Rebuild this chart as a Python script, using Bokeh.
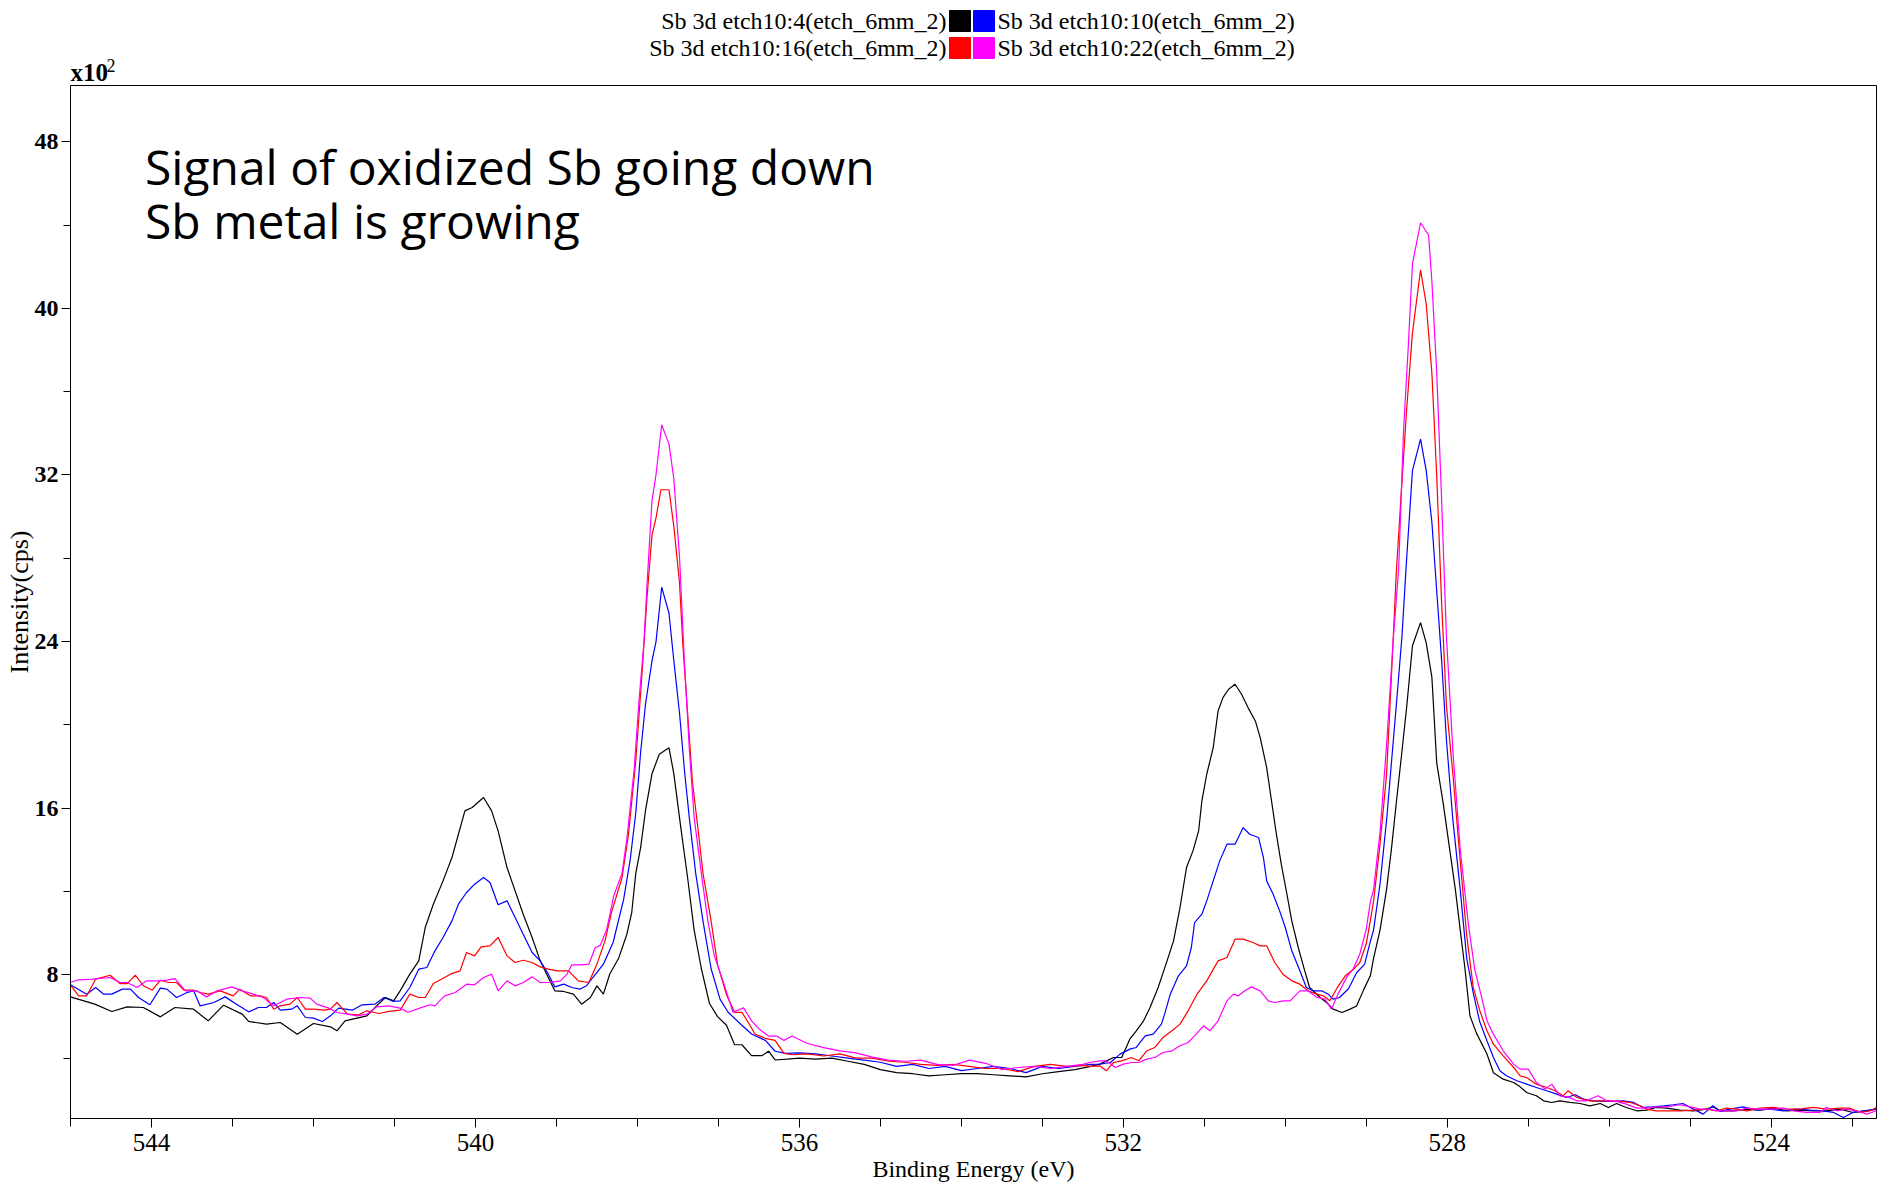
from bokeh.plotting import figure
from bokeh.models import Range1d, FixedTicker, Label
from bokeh.layouts import column
from bokeh.embed import file_html
from bokeh.resources import INLINE

# ---------------- data (intensity in units of 10^2 cps) ----------------
series_names = ["Sb 3d etch10:4(etch_6mm_2)", "Sb 3d etch10:10(etch_6mm_2)",
                "Sb 3d etch10:16(etch_6mm_2)", "Sb 3d etch10:22(etch_6mm_2)"]
series_colors = ["#000000", "#0000FF", "#FF0000", "#FF00FF"]

be_etch4 = [545.00, 544.70, 544.49, 544.30, 544.10, 543.89, 543.71, 543.48, 543.30, 543.11, 542.88, 542.80,
            542.58, 542.41, 542.20, 542.00, 541.79, 541.71, 541.61, 541.34, 541.22, 541.11, 541.01, 540.93,
            540.81, 540.70, 540.62, 540.52, 540.40, 540.29, 540.21, 540.13, 540.04, 539.90, 539.80, 539.72,
            539.61, 539.51, 539.41, 539.30, 539.20, 539.12, 539.02, 538.91, 538.79, 538.69, 538.58, 538.50,
            538.42, 538.34, 538.23, 538.13, 538.07, 538.02, 537.96, 537.90, 537.82, 537.73, 537.61, 537.55,
            537.46, 537.38, 537.30, 537.21, 537.11, 537.01, 536.90, 536.80, 536.71, 536.59, 536.46, 536.38,
            536.30, 536.15, 536.00, 535.80, 535.60, 535.40, 535.20, 535.00, 534.80, 534.60, 534.40, 534.20,
            534.00, 533.80, 533.60, 533.40, 533.20, 533.00, 532.80, 532.60, 532.40, 532.29, 532.12, 532.02,
            531.92, 531.84, 531.75, 531.67, 531.57, 531.46, 531.38, 531.30, 531.22, 531.14, 531.07, 531.03,
            530.97, 530.89, 530.83, 530.77, 530.70, 530.62, 530.54, 530.46, 530.37, 530.31, 530.23, 530.17,
            530.11, 530.05, 529.98, 529.92, 529.84, 529.76, 529.70, 529.57, 529.49, 529.41, 529.30, 529.20,
            529.12, 529.03, 528.95, 528.91, 528.83, 528.75, 528.69, 528.63, 528.56, 528.50, 528.43, 528.33,
            528.26, 528.19, 528.13, 528.05, 527.97, 527.90, 527.84, 527.78, 527.72, 527.64, 527.51, 527.43,
            527.31, 527.18, 527.10, 527.02, 526.90, 526.81, 526.71, 526.61, 526.49, 526.36, 526.24, 526.11,
            526.01, 525.91, 525.79, 525.66, 525.54, 525.42, 525.29, 525.13, 524.96, 524.80, 524.72, 524.63,
            524.47, 524.30, 524.14, 523.97, 523.81, 523.65, 523.48, 523.32, 523.15, 522.99, 522.82, 522.70]
int_etch4 = [6.94, 6.59, 6.24, 6.46, 6.43, 5.98, 6.43, 6.35, 5.79, 6.54, 6.11, 5.76,
             5.63, 5.71, 5.15, 5.66, 5.50, 5.31, 5.79, 6.03, 6.51, 6.91, 6.75, 7.23,
             8.03, 8.67, 10.27, 11.39, 12.51, 13.63, 14.75, 15.87, 16.03, 16.51, 15.87, 14.91,
             13.15, 12.03, 10.91, 9.79, 8.67, 8.03, 7.23, 7.20, 7.07, 6.59, 6.91, 7.47,
             7.07, 8.05, 8.81, 9.95, 10.99, 12.87, 14.12, 15.89, 17.65, 18.59, 18.90, 17.65,
             14.95, 12.66, 10.16, 8.29, 6.62, 5.99, 5.58, 4.64, 4.64, 4.12, 4.12, 4.33,
             3.91, 3.95, 4.00, 3.95, 4.00, 3.85, 3.70, 3.45, 3.30, 3.25, 3.15, 3.20,
             3.25, 3.25, 3.20, 3.15, 3.10, 3.25, 3.35, 3.45, 3.60, 3.71, 4.03, 4.03,
             4.91, 5.31, 5.79, 6.43, 7.39, 8.67, 9.63, 11.23, 13.15, 13.95, 14.91, 16.35,
             17.63, 18.91, 20.67, 21.31, 21.71, 21.95, 21.47, 20.83, 20.19, 19.39, 17.95, 16.35,
             14.75, 13.31, 11.87, 10.59, 9.31, 8.19, 7.39, 6.91, 6.67, 6.35, 6.19, 6.35,
             6.50, 7.30, 7.95, 8.79, 10.16, 12.09, 14.02, 16.23, 18.71, 20.91, 23.80, 24.91,
             23.94, 22.29, 18.16, 16.23, 14.02, 12.09, 10.16, 8.24, 6.03, 5.20, 4.20, 3.30,
             2.99, 2.83, 2.62, 2.35, 2.19, 1.95, 1.87, 1.95, 1.87, 1.82, 1.71, 1.82,
             1.63, 1.82, 1.63, 1.47, 1.50, 1.63, 1.60, 1.50, 1.47, 1.55, 1.66, 1.47,
             1.47, 1.55, 1.50, 1.60, 1.47, 1.50, 1.47, 1.47, 1.55, 1.39, 1.47, 1.55]

be_etch10 = [545.00, 544.80, 544.69, 544.59, 544.49, 544.36, 544.26, 544.16, 544.02, 543.89, 543.81, 543.69,
             543.56, 543.48, 543.40, 543.23, 543.09, 542.95, 542.80, 542.68, 542.58, 542.49, 542.41, 542.27,
             542.20, 542.10, 542.00, 541.89, 541.79, 541.69, 541.52, 541.40, 541.24, 541.13, 541.01, 540.93,
             540.81, 540.70, 540.60, 540.50, 540.40, 540.29, 540.21, 540.11, 540.01, 539.90, 539.82, 539.72,
             539.61, 539.51, 539.41, 539.30, 539.20, 539.10, 539.02, 538.91, 538.81, 538.71, 538.63, 538.55,
             538.42, 538.30, 538.17, 538.09, 538.02, 537.96, 537.90, 537.82, 537.77, 537.70, 537.61, 537.55,
             537.48, 537.42, 537.36, 537.28, 537.19, 537.09, 536.98, 536.88, 536.71, 536.59, 536.42, 536.30,
             536.17, 536.00, 535.80, 535.60, 535.40, 535.20, 535.00, 534.80, 534.60, 534.40, 534.20, 534.00,
             533.80, 533.60, 533.40, 533.20, 533.00, 532.80, 532.60, 532.40, 532.29, 532.16, 532.04, 531.92,
             531.84, 531.73, 531.63, 531.53, 531.49, 531.42, 531.32, 531.22, 531.16, 531.12, 531.03, 530.97,
             530.89, 530.81, 530.72, 530.62, 530.52, 530.44, 530.33, 530.27, 530.23, 530.15, 530.07, 530.00,
             529.92, 529.82, 529.74, 529.65, 529.55, 529.47, 529.41, 529.33, 529.22, 529.12, 529.02, 528.95,
             528.91, 528.83, 528.75, 528.69, 528.63, 528.56, 528.50, 528.43, 528.33, 528.26, 528.19, 528.13,
             528.07, 528.01, 527.93, 527.84, 527.76, 527.68, 527.60, 527.51, 527.43, 527.35, 527.27, 527.14,
             527.02, 526.90, 526.77, 526.65, 526.53, 526.42, 526.32, 526.20, 526.07, 525.95, 525.83, 525.70,
             525.58, 525.46, 525.33, 525.21, 525.09, 524.96, 524.84, 524.72, 524.63, 524.51, 524.35, 524.18,
             524.02, 523.85, 523.69, 523.52, 523.36, 523.23, 523.11, 522.99, 522.86, 522.70]
int_etch10 = [7.52, 7.07, 7.39, 7.07, 7.07, 7.31, 7.31, 6.91, 6.56, 7.36, 7.31, 6.91,
              7.15, 7.23, 6.51, 6.67, 6.94, 6.59, 6.22, 6.43, 6.43, 6.67, 6.30, 6.35,
              6.51, 5.95, 5.92, 5.76, 6.03, 6.40, 6.30, 6.56, 6.59, 6.91, 6.72, 6.75,
              7.39, 8.27, 8.35, 9.15, 9.79, 10.59, 11.39, 11.95, 12.35, 12.67, 12.43, 11.36,
              11.55, 10.75, 9.95, 9.07, 8.67, 8.03, 7.42, 7.55, 7.39, 7.31, 7.47, 7.87,
              8.51, 9.55, 11.62, 13.49, 15.78, 18.70, 20.99, 23.07, 24.00, 26.61, 25.36, 23.07,
              20.57, 17.86, 15.57, 12.87, 10.58, 8.29, 6.83, 6.20, 5.58, 5.16, 4.85, 4.33,
              4.23, 4.25, 4.20, 4.10, 4.00, 3.90, 3.80, 3.60, 3.70, 3.50, 3.60, 3.40,
              3.50, 3.60, 3.50, 3.30, 3.60, 3.50, 3.60, 3.70, 3.71, 3.79, 4.19, 4.43,
              4.51, 5.07, 5.15, 5.63, 6.11, 7.07, 7.95, 8.43, 9.31, 10.51, 10.91, 11.55,
              12.51, 13.47, 14.27, 14.27, 15.07, 14.75, 14.59, 13.63, 12.51, 11.87, 11.07, 10.27,
              9.15, 8.19, 7.39, 7.23, 7.23, 7.07, 6.83, 6.91, 7.33, 8.10, 8.51, 9.60,
              10.16, 12.37, 15.40, 18.16, 20.91, 24.22, 28.08, 32.21, 33.72, 32.21, 29.73, 26.42,
              23.12, 19.26, 15.40, 12.09, 8.79, 7.14, 5.76, 4.83, 4.03, 3.39, 3.15, 2.91,
              2.75, 2.59, 2.43, 2.27, 2.11, 2.24, 2.03, 1.95, 1.92, 1.92, 1.95, 1.87,
              1.63, 1.66, 1.71, 1.76, 1.82, 1.55, 1.31, 1.71, 1.44, 1.55, 1.66, 1.50,
              1.55, 1.47, 1.55, 1.50, 1.47, 1.39, 1.15, 1.39, 1.47, 1.55]

be_etch16 = [545.00, 544.90, 544.80, 544.69, 544.51, 544.39, 544.30, 544.20, 544.10, 543.99, 543.89, 543.79,
             543.69, 543.60, 543.48, 543.40, 543.30, 543.15, 542.99, 542.91, 542.78, 542.66, 542.58, 542.49,
             542.41, 542.29, 542.20, 542.10, 542.00, 541.87, 541.79, 541.71, 541.58, 541.44, 541.34, 541.19,
             541.07, 540.93, 540.81, 540.70, 540.62, 540.52, 540.42, 540.31, 540.19, 540.11, 540.01, 539.93,
             539.82, 539.72, 539.61, 539.51, 539.41, 539.30, 539.20, 539.10, 538.99, 538.85, 538.73, 538.60,
             538.50, 538.40, 538.32, 538.19, 538.11, 538.02, 537.94, 537.88, 537.82, 537.77, 537.71, 537.61,
             537.55, 537.48, 537.44, 537.38, 537.32, 537.25, 537.19, 537.09, 537.01, 536.90, 536.80, 536.71,
             536.61, 536.55, 536.42, 536.30, 536.19, 536.09, 535.90, 535.70, 535.50, 535.30, 535.10, 534.90,
             534.70, 534.50, 534.30, 534.10, 533.90, 533.70, 533.50, 533.30, 533.10, 532.90, 532.70, 532.50,
             532.40, 532.29, 532.21, 532.12, 532.02, 531.90, 531.81, 531.71, 531.61, 531.51, 531.40, 531.30,
             531.20, 531.09, 530.97, 530.83, 530.72, 530.62, 530.52, 530.40, 530.31, 530.23, 530.13, 530.03,
             529.92, 529.82, 529.72, 529.61, 529.53, 529.45, 529.37, 529.26, 529.16, 529.08, 529.00, 528.95,
             528.91, 528.83, 528.75, 528.69, 528.63, 528.56, 528.50, 528.43, 528.33, 528.26, 528.19, 528.13,
             528.07, 528.01, 527.93, 527.84, 527.76, 527.68, 527.60, 527.51, 527.43, 527.31, 527.18, 527.10,
             527.02, 526.90, 526.77, 526.67, 526.57, 526.51, 526.40, 526.32, 526.24, 526.11, 525.99, 525.87,
             525.74, 525.62, 525.54, 525.42, 525.29, 525.13, 524.96, 524.80, 524.67, 524.55, 524.43, 524.30,
             524.14, 523.97, 523.81, 523.65, 523.48, 523.32, 523.15, 523.03, 522.90, 522.78, 522.70]
int_etch16 = [7.52, 6.99, 6.99, 7.79, 7.98, 7.58, 7.58, 7.98, 7.47, 7.26, 7.74, 7.63,
              7.63, 7.26, 7.26, 7.15, 7.07, 7.23, 6.99, 7.31, 6.99, 6.99, 6.91, 6.35,
              6.51, 6.59, 6.91, 6.35, 6.35, 6.30, 6.35, 6.67, 6.11, 6.08, 6.27, 6.14,
              6.24, 6.30, 7.07, 6.91, 6.91, 7.58, 7.79, 8.03, 8.19, 9.07, 8.91, 9.34,
              9.39, 9.79, 8.91, 8.59, 8.70, 8.59, 8.38, 8.27, 8.19, 8.19, 7.71, 7.63,
              8.51, 9.63, 11.00, 12.66, 14.74, 18.28, 22.65, 26.19, 29.11, 29.94, 31.29, 31.29,
              29.52, 26.82, 23.90, 20.57, 17.24, 14.95, 12.87, 10.58, 8.49, 7.04, 6.20, 6.20,
              5.58, 5.16, 4.95, 4.85, 4.23, 4.16, 4.20, 4.10, 4.20, 4.00, 4.00, 3.85,
              3.80, 3.70, 3.65, 3.70, 3.60, 3.50, 3.50, 3.35, 3.60, 3.70, 3.60, 3.65,
              3.60, 3.63, 3.39, 3.79, 3.87, 4.03, 3.87, 4.35, 4.51, 4.99, 5.31, 5.63,
              6.27, 7.07, 7.71, 8.67, 8.83, 9.71, 9.71, 9.55, 9.39, 9.39, 8.59, 8.03,
              7.71, 7.55, 7.23, 7.07, 6.99, 6.75, 7.31, 7.95, 8.25, 8.59, 9.50, 10.60,
              11.54, 14.30, 17.60, 22.29, 27.25, 31.66, 35.24, 38.82, 41.85, 40.20, 36.89, 31.93,
              25.87, 20.91, 17.60, 13.47, 9.89, 7.41, 6.30, 5.31, 4.67, 4.11, 3.55, 3.15,
              3.07, 2.75, 2.59, 2.43, 2.19, 2.43, 2.11, 2.03, 1.95, 1.95, 1.95, 1.92,
              1.87, 1.71, 1.55, 1.47, 1.47, 1.47, 1.50, 1.55, 1.47, 1.60, 1.55, 1.47,
              1.60, 1.63, 1.55, 1.55, 1.63, 1.55, 1.60, 1.60, 1.39, 1.47, 1.63]

be_etch22 = [545.00, 544.90, 544.73, 544.51, 544.39, 544.30, 544.18, 544.06, 543.91, 543.81, 543.71, 543.58,
             543.44, 543.32, 543.19, 543.01, 542.88, 542.74, 542.62, 542.49, 542.33, 542.16, 542.04, 541.96,
             541.81, 541.71, 541.58, 541.46, 541.34, 541.22, 541.07, 540.93, 540.83, 540.69, 540.56, 540.50,
             540.38, 540.25, 540.11, 540.01, 539.90, 539.80, 539.72, 539.61, 539.51, 539.41, 539.30, 539.20,
             539.08, 538.95, 538.87, 538.81, 538.69, 538.60, 538.52, 538.46, 538.38, 538.29, 538.19, 538.13,
             538.04, 537.98, 537.92, 537.88, 537.82, 537.77, 537.70, 537.61, 537.55, 537.48, 537.42, 537.36,
             537.30, 537.21, 537.13, 537.05, 536.94, 536.82, 536.69, 536.59, 536.49, 536.38, 536.28, 536.19,
             536.09, 535.90, 535.70, 535.50, 535.30, 535.10, 534.90, 534.70, 534.50, 534.30, 534.10, 533.90,
             533.70, 533.50, 533.30, 533.10, 532.90, 532.70, 532.50, 532.40, 532.29, 532.21, 532.10, 532.00,
             531.90, 531.81, 531.71, 531.61, 531.51, 531.40, 531.30, 531.20, 531.12, 531.01, 530.93, 530.83,
             530.72, 530.64, 530.58, 530.50, 530.42, 530.31, 530.21, 530.13, 530.03, 529.94, 529.82, 529.72,
             529.61, 529.51, 529.43, 529.35, 529.24, 529.16, 529.08, 529.00, 528.95, 528.91, 528.83, 528.75,
             528.67, 528.60, 528.54, 528.48, 528.43, 528.33, 528.23, 528.19, 528.13, 528.07, 528.01, 527.93,
             527.84, 527.74, 527.66, 527.58, 527.51, 527.43, 527.31, 527.18, 527.10, 527.00, 526.90, 526.79,
             526.71, 526.61, 526.51, 526.40, 526.28, 526.14, 526.03, 525.91, 525.79, 525.66, 525.54, 525.42,
             525.29, 525.13, 525.00, 524.88, 524.76, 524.67, 524.55, 524.43, 524.30, 524.14, 523.97, 523.85,
             523.73, 523.56, 523.40, 523.32, 523.19, 523.07, 522.95, 522.82, 522.70]
int_etch22 = [7.63, 7.76, 7.79, 7.87, 7.63, 7.63, 7.39, 7.71, 7.71, 7.74, 7.82, 7.23,
              7.23, 6.94, 7.23, 7.42, 7.23, 7.07, 6.91, 6.51, 6.83, 6.91, 6.88, 6.59,
              6.40, 6.19, 6.11, 6.03, 6.11, 6.46, 6.51, 6.40, 6.20, 6.40, 6.56, 6.51,
              6.99, 7.15, 7.55, 7.52, 7.87, 8.03, 7.23, 7.71, 7.47, 7.63, 7.90, 7.63,
              7.63, 7.71, 8.03, 8.48, 8.48, 8.51, 9.31, 9.40, 10.16, 11.82, 12.87, 14.53,
              17.86, 21.19, 23.90, 26.82, 30.77, 32.02, 34.41, 33.48, 31.81, 28.06, 23.07, 18.90,
              15.57, 12.87, 10.58, 8.91, 7.66, 6.20, 6.41, 5.79, 5.37, 5.06, 5.06, 4.85,
              5.06, 4.70, 4.50, 4.35, 4.25, 4.05, 3.90, 3.85, 3.90, 3.70, 3.65, 3.90,
              3.75, 3.45, 3.55, 3.60, 3.50, 3.60, 3.70, 3.80, 3.87, 3.87, 3.55, 3.71,
              3.79, 3.79, 3.95, 4.03, 4.27, 4.35, 4.59, 4.75, 5.07, 5.55, 5.31, 5.79,
              6.75, 7.07, 6.99, 7.23, 7.42, 7.23, 6.75, 6.67, 6.75, 6.75, 7.23, 7.23,
              6.91, 6.83, 6.35, 7.07, 7.90, 8.30, 8.99, 10.20, 11.50, 12.09, 14.85, 18.98,
              23.94, 27.52, 34.14, 38.27, 42.13, 44.11, 43.51, 41.30, 36.89, 30.83, 24.22, 18.71,
              14.02, 10.44, 8.24, 7.00, 5.79, 5.15, 4.35, 3.71, 3.47, 3.47, 2.83, 2.51,
              2.75, 2.19, 2.14, 1.95, 1.95, 2.19, 1.95, 1.92, 1.79, 1.60, 1.60, 1.66,
              1.66, 1.76, 1.66, 1.55, 1.55, 1.47, 1.47, 1.47, 1.60, 1.55, 1.55, 1.60,
              1.47, 1.39, 1.39, 1.63, 1.47, 1.55, 1.47, 1.31, 1.47]

series_be = [be_etch4, be_etch10, be_etch16, be_etch22]
series_int = [int_etch4, int_etch10, int_etch16, int_etch22]

x_ticks = [544, 540, 536, 532, 528, 524]
x_minor_ticks = list(range(523, 546))
y_ticks = [8, 16, 24, 32, 40, 48]
y_minor_ticks = [4, 12, 20, 28, 36, 44]

annotation_lines = ["Signal of oxidized Sb going down", "Sb metal is growing"]
multiplier_text = "x10"
multiplier_exp = "2"

X_START, X_END = 545.0, 522.7
Y_START, Y_END = 1.1, 50.7

SERIF = "Liberation Serif"
W = 1883
TOP_H = 85
B_LEFT, B_RIGHT = 70, 7

# ---------------- top strip: legend and axis multiplier ----------------
# its frame is aligned with the main plot frame, so x is given in page pixels
top = figure(width=W, height=TOP_H, x_range=Range1d(B_LEFT, W - B_RIGHT), y_range=Range1d(TOP_H, 0),
             output_backend="svg", toolbar_location=None, x_axis_type=None, y_axis_type=None,
             min_border_left=B_LEFT, min_border_right=B_RIGHT, min_border_top=0,
             min_border_bottom=0, outline_line_color=None, title=None)
top.grid.visible = False
box_w, box_gap, box_left, row_top, row_h = 21, 3, 949, 10, 27
for i, (name, col) in enumerate(zip(series_names, series_colors)):
    c, r = i % 2, i // 2
    l = box_left + c * (box_w + box_gap)
    t = row_top + r * row_h
    top.quad(left=[l], right=[l + box_w], top=[t], bottom=[t + box_w],
             fill_color=col, line_color=col)
    tx = box_left - 3 if c == 0 else box_left + 2 * box_w + box_gap + 3
    top.text(x=[tx], y=[t + box_w / 2], text=[name],
             text_align="right" if c == 0 else "left",
             text_baseline="middle", text_font_size="24px", text_color="black",
             text_font={"value": SERIF})

top.text(x=[B_LEFT], y=[TOP_H], text=[multiplier_text], text_align="left", text_baseline="bottom",
         text_font_size="25px", text_font_style="bold", text_color="black",
         text_font={"value": SERIF})
top.text(x=[106], y=[71], text=[multiplier_exp], text_align="left", text_baseline="bottom",
         text_font_size="18px", text_color="black", text_font={"value": SERIF})

# ---------------- main plot ----------------
p = figure(width=W, height=1184 - TOP_H, x_range=Range1d(X_START, X_END),
           y_range=Range1d(Y_START, Y_END), output_backend="svg", toolbar_location=None,
           min_border_left=B_LEFT, min_border_right=B_RIGHT, min_border_top=0,
           min_border_bottom=66, background_fill_color="white", border_fill_color="white",
           title=None)
p.grid.visible = False
p.outline_line_color = "black"
p.outline_line_width = 1

for be, it, col in zip(series_be, series_int, series_colors):
    p.line(be, it, line_color=col, line_width=1.2)

xa = p.xaxis[0]
xa.ticker = FixedTicker(ticks=x_ticks, minor_ticks=x_minor_ticks)
xa.axis_label = "Binding Energy (eV)"
xa.axis_label_text_font = SERIF
xa.axis_label_text_font_style = "normal"
xa.axis_label_text_font_size = "24px"
xa.axis_label_text_color = "black"
xa.axis_label_standoff = 2
xa.major_label_text_font = SERIF
xa.major_label_text_font_size = "25px"
xa.major_label_text_color = "black"
xa.major_label_standoff = 6
xa.major_tick_out = 9
xa.major_tick_in = 0
xa.minor_tick_out = 8
xa.minor_tick_in = 0
xa.axis_line_color = "black"
xa.major_tick_line_color = "black"
xa.minor_tick_line_color = "black"

ya = p.yaxis[0]
ya.ticker = FixedTicker(ticks=y_ticks, minor_ticks=y_minor_ticks)
ya.axis_label = "Intensity(cps)"
ya.axis_label_text_font = SERIF
ya.axis_label_text_font_style = "normal"
ya.axis_label_text_font_size = "26px"
ya.axis_label_text_color = "black"
ya.axis_label_standoff = -2
ya.major_label_text_font = SERIF
ya.major_label_text_font_style = "bold"
ya.major_label_text_font_size = "24px"
ya.major_label_text_color = "black"
ya.major_label_standoff = 3
ya.major_tick_out = 9
ya.major_tick_in = 0
ya.minor_tick_out = 7
ya.minor_tick_in = 0
ya.axis_line_color = "black"

# annotation text
for line_text, y_pos in zip(annotation_lines, [45.97, 43.33]):
    p.add_layout(Label(x=544.08, y=y_pos, text=line_text, text_font="Open Sans",
                       text_font_size="48px", text_color="black", text_baseline="alphabetic",
                       y_offset=18))

layout = column(top, p, spacing=0)
open("out.html", "w").write(file_html(layout, INLINE))
